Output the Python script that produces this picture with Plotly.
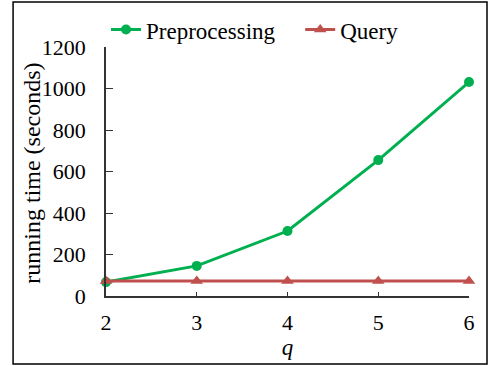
import plotly.graph_objects as go

q = [2, 3, 4, 5, 6]
preprocessing = [67, 145, 313, 655, 1031]
query = [72, 72, 72, 72, 72]

font = "Liberation Serif"
fig = go.Figure()
fig.add_trace(go.Scatter(x=q, y=preprocessing, name="Preprocessing", mode="lines+markers",
                         line=dict(color="#00b050", width=3), marker=dict(symbol="circle", size=10),
                         cliponaxis=False, legend="legend"))
fig.add_trace(go.Scatter(x=q, y=query, name="Query", mode="lines+markers",
                         line=dict(color="#c0504d", width=3), marker=dict(symbol="triangle-up", size=11),
                         cliponaxis=False, legend="legend2"))

leg = dict(orientation="h", xanchor="left", yanchor="middle", y=1.07,
           font=dict(size=23), bgcolor="rgba(0,0,0,0)")
fig.update_layout(
    width=493, height=366,
    margin=dict(l=106, r=24, t=47, b=70, autoexpand=False),
    paper_bgcolor="white", plot_bgcolor="white",
    font=dict(family=font, size=22, color="black"),
    showlegend=True,
    legend=dict(leg, x=0.0),
    legend2=dict(leg, x=0.535),
    xaxis=dict(range=[2, 6], tickvals=q, ticks="inside", ticklen=4, tickcolor="#333333",
               showline=True, linecolor="#333333", linewidth=1.5, showgrid=False, zeroline=False,
               ticklabelstandoff=6, tickfont=dict(size=22),
               title=dict(text="<i>q</i>", standoff=4, font=dict(size=23))),
    yaxis=dict(range=[0, 1200], dtick=200, ticks="inside", ticklen=7, tickcolor="#333333",
               showline=True, linecolor="#333333", linewidth=1.5, showgrid=False, zeroline=False,
               ticklabelstandoff=14, tickfont=dict(size=22)),
    annotations=[dict(text="running time (seconds)", textangle=-90, xref="paper", yref="paper",
                      x=-0.204, y=0.495, xanchor="center", yanchor="middle", showarrow=False,
                      font=dict(size=24, family=font, color="black"))],
    shapes=[dict(type="rect", xref="paper", yref="paper", x0=-0.256, x1=1.0496, y0=-0.273, y1=1.1807,
                 line=dict(color="black", width=1.5))],
)
fig.write_html("out.html", config={"displayModeBar": False},
               post_script="document.body.style.margin='0px';")
